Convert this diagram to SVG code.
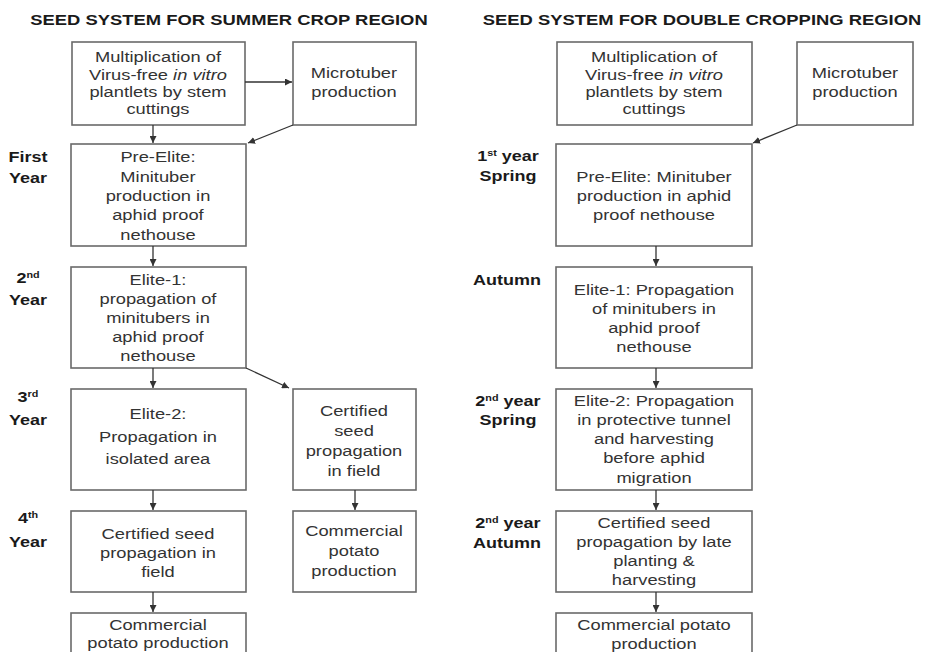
<svg xmlns="http://www.w3.org/2000/svg" width="928" height="652" viewBox="0 0 928 652">
<style>
text{font-family:"Liberation Sans",Arial,sans-serif;text-anchor:middle;transform-box:fill-box;transform-origin:center}
.t{font-size:15px;fill:#333;transform:scaleX(1.22)}
.lb{font-size:15px;font-weight:bold;fill:#1a1a1a;transform:scaleX(1.2)}
.ti{font-size:14.5px;font-weight:bold;fill:#1a1a1a;transform:scaleX(1.27)}
.sup{font-size:9px}
rect{fill:#fff;stroke:#6a6a6a;stroke-width:1.6}
.c line{stroke:#333;stroke-width:1.3;marker-end:url(#ah)}
</style>
<defs>
<marker id="ah" viewBox="0 0 10 10" refX="10" refY="5" markerWidth="7" markerHeight="7" markerUnits="userSpaceOnUse" orient="auto">
<path d="M0,0L10,5L0,10z" fill="#333"/>
</marker>
</defs>
<rect x="0" y="0" width="928" height="652" style="fill:#fff;stroke:none"/>

<g id="titles">
<text class="ti" x="229" y="25">SEED SYSTEM FOR SUMMER CROP REGION</text>
<text class="ti" x="702" y="25">SEED SYSTEM FOR DOUBLE CROPPING REGION</text>
</g>

<g id="labels-left">
<text class="lb" x="28" y="162">First</text>
<text class="lb" x="28" y="183">Year</text>
<text class="lb" x="28" y="283">2<tspan class="sup" baseline-shift="super">nd</tspan></text>
<text class="lb" x="28" y="305">Year</text>
<text class="lb" x="28" y="402">3<tspan class="sup" baseline-shift="super">rd</tspan></text>
<text class="lb" x="28" y="425">Year</text>
<text class="lb" x="28" y="523">4<tspan class="sup" baseline-shift="super">th</tspan></text>
<text class="lb" x="28" y="547">Year</text>
</g>
<g id="labels-right">
<text class="lb" x="508" y="161">1<tspan class="sup" baseline-shift="super">st</tspan> year</text>
<text class="lb" x="508" y="181">Spring</text>
<text class="lb" x="507" y="285">Autumn</text>
<text class="lb" x="508" y="406">2<tspan class="sup" baseline-shift="super">nd</tspan> year</text>
<text class="lb" x="508" y="425">Spring</text>
<text class="lb" x="508" y="528">2<tspan class="sup" baseline-shift="super">nd</tspan> year</text>
<text class="lb" x="507" y="548">Autumn</text>
</g>

<g id="L-mult">
<rect x="72" y="42" width="173" height="83"/>
<text class="t" x="158" y="62">Multiplication of</text>
<text class="t" x="158" y="80">Virus-free <tspan font-style="italic">in vitro</tspan></text>
<text class="t" x="158" y="97">plantlets by stem</text>
<text class="t" x="158" y="114">cuttings</text>
</g>
<g id="L-micro">
<rect x="293" y="42" width="123" height="83"/>
<text class="t" x="354" y="78">Microtuber</text>
<text class="t" x="354" y="97">production</text>
</g>
<g id="L-preelite">
<rect x="71" y="144" width="175" height="102"/>
<text class="t" x="158" y="162">Pre-Elite:</text>
<text class="t" x="158" y="182">Minituber</text>
<text class="t" x="158" y="201">production in</text>
<text class="t" x="158" y="220">aphid proof</text>
<text class="t" x="158" y="240">nethouse</text>
</g>
<g id="L-elite1">
<rect x="71" y="267" width="175" height="101"/>
<text class="t" x="158" y="285">Elite-1:</text>
<text class="t" x="158" y="304">propagation of</text>
<text class="t" x="158" y="323">minitubers in</text>
<text class="t" x="158" y="342">aphid proof</text>
<text class="t" x="158" y="361">nethouse</text>
</g>
<g id="L-elite2">
<rect x="71" y="389" width="175" height="101"/>
<text class="t" x="158" y="419">Elite-2:</text>
<text class="t" x="158" y="442">Propagation in</text>
<text class="t" x="158" y="464">isolated area</text>
</g>
<g id="L-certA">
<rect x="293" y="389" width="123" height="101"/>
<text class="t" x="354" y="416">Certified</text>
<text class="t" x="354" y="436">seed</text>
<text class="t" x="354" y="456">propagation</text>
<text class="t" x="354" y="476">in field</text>
</g>
<g id="L-certB">
<rect x="71" y="511" width="175" height="81"/>
<text class="t" x="158" y="539">Certified seed</text>
<text class="t" x="158" y="558">propagation in</text>
<text class="t" x="158" y="577">field</text>
</g>
<g id="L-commA">
<rect x="293" y="511" width="123" height="81"/>
<text class="t" x="354" y="536">Commercial</text>
<text class="t" x="354" y="556">potato</text>
<text class="t" x="354" y="576">production</text>
</g>
<g id="L-commB">
<rect x="71" y="613" width="175" height="60"/>
<text class="t" x="158" y="630">Commercial</text>
<text class="t" x="158" y="648">potato production</text>
</g>

<g id="R-mult">
<rect x="557" y="42" width="195" height="83"/>
<text class="t" x="654" y="62">Multiplication of</text>
<text class="t" x="654" y="80">Virus-free <tspan font-style="italic">in vitro</tspan></text>
<text class="t" x="654" y="97">plantlets by stem</text>
<text class="t" x="654" y="114">cuttings</text>
</g>
<g id="R-micro">
<rect x="797" y="42" width="116" height="83"/>
<text class="t" x="855" y="78">Microtuber</text>
<text class="t" x="855" y="97">production</text>
</g>
<g id="R-preelite">
<rect x="556" y="144" width="196" height="102"/>
<text class="t" x="654" y="182">Pre-Elite: Minituber</text>
<text class="t" x="654" y="201">production in aphid</text>
<text class="t" x="654" y="220">proof nethouse</text>
</g>
<g id="R-elite1">
<rect x="556" y="267" width="196" height="101"/>
<text class="t" x="654" y="295">Elite-1: Propagation</text>
<text class="t" x="654" y="314">of minitubers in</text>
<text class="t" x="654" y="333">aphid proof</text>
<text class="t" x="654" y="352">nethouse</text>
</g>
<g id="R-elite2">
<rect x="556" y="389" width="196" height="101"/>
<text class="t" x="654" y="406">Elite-2: Propagation</text>
<text class="t" x="654" y="425">in protective tunnel</text>
<text class="t" x="654" y="444">and harvesting</text>
<text class="t" x="654" y="463">before aphid</text>
<text class="t" x="654" y="483">migration</text>
</g>
<g id="R-cert">
<rect x="556" y="511" width="196" height="81"/>
<text class="t" x="654" y="528">Certified seed</text>
<text class="t" x="654" y="547">propagation by late</text>
<text class="t" x="654" y="566">planting &amp;</text>
<text class="t" x="654" y="585">harvesting</text>
</g>
<g id="R-comm">
<rect x="556" y="613" width="196" height="60"/>
<text class="t" x="654" y="630">Commercial potato</text>
<text class="t" x="654" y="649">production</text>
</g>

<g id="connectors" class="c">
<line x1="245" y1="82" x2="292" y2="82"/>
<line x1="153" y1="125" x2="153" y2="143"/>
<line x1="293" y1="125" x2="248" y2="143"/>
<line x1="153" y1="246" x2="153" y2="266"/>
<line x1="153" y1="368" x2="153" y2="388"/>
<line x1="246" y1="368" x2="289" y2="388"/>
<line x1="153" y1="490" x2="153" y2="510"/>
<line x1="355" y1="490" x2="355" y2="510"/>
<line x1="153" y1="592" x2="153" y2="612"/>
<line x1="797" y1="125" x2="753" y2="143"/>
<line x1="656" y1="246" x2="656" y2="266"/>
<line x1="656" y1="368" x2="656" y2="388"/>
<line x1="656" y1="490" x2="656" y2="510"/>
<line x1="656" y1="592" x2="656" y2="612"/>
</g>
</svg>
